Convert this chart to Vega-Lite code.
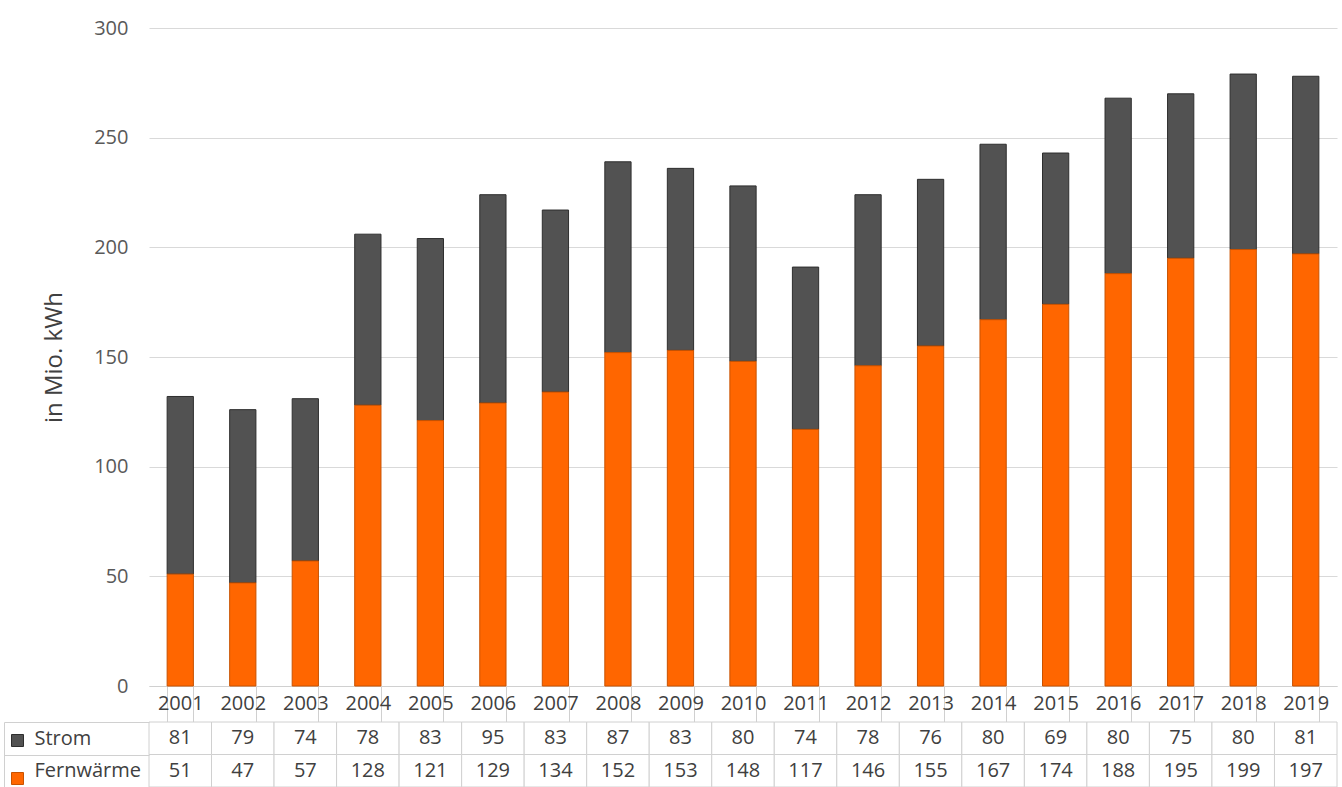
{
  "$schema": "https://vega.github.io/schema/vega-lite/v6.json",
  "autosize": {"type": "pad"},
  "padding": {"left": 3, "top": 18, "right": 6, "bottom": 0},
  "bounds": "flush",
  "spacing": 36,
  "config": {
    "font": "Open Sans",
    "view": {"stroke": null},
    "axis": {"labelFont": "Open Sans", "titleFont": "Open Sans"}
  },
  "datasets": {
    "energy": [
      {"year": "2001", "series": "Strom", "value": 81}, {"year": "2001", "series": "Fernwärme", "value": 51},
      {"year": "2002", "series": "Strom", "value": 79}, {"year": "2002", "series": "Fernwärme", "value": 47},
      {"year": "2003", "series": "Strom", "value": 74}, {"year": "2003", "series": "Fernwärme", "value": 57},
      {"year": "2004", "series": "Strom", "value": 78}, {"year": "2004", "series": "Fernwärme", "value": 128},
      {"year": "2005", "series": "Strom", "value": 83}, {"year": "2005", "series": "Fernwärme", "value": 121},
      {"year": "2006", "series": "Strom", "value": 95}, {"year": "2006", "series": "Fernwärme", "value": 129},
      {"year": "2007", "series": "Strom", "value": 83}, {"year": "2007", "series": "Fernwärme", "value": 134},
      {"year": "2008", "series": "Strom", "value": 87}, {"year": "2008", "series": "Fernwärme", "value": 152},
      {"year": "2009", "series": "Strom", "value": 83}, {"year": "2009", "series": "Fernwärme", "value": 153},
      {"year": "2010", "series": "Strom", "value": 80}, {"year": "2010", "series": "Fernwärme", "value": 148},
      {"year": "2011", "series": "Strom", "value": 74}, {"year": "2011", "series": "Fernwärme", "value": 117},
      {"year": "2012", "series": "Strom", "value": 78}, {"year": "2012", "series": "Fernwärme", "value": 146},
      {"year": "2013", "series": "Strom", "value": 76}, {"year": "2013", "series": "Fernwärme", "value": 155},
      {"year": "2014", "series": "Strom", "value": 80}, {"year": "2014", "series": "Fernwärme", "value": 167},
      {"year": "2015", "series": "Strom", "value": 69}, {"year": "2015", "series": "Fernwärme", "value": 174},
      {"year": "2016", "series": "Strom", "value": 80}, {"year": "2016", "series": "Fernwärme", "value": 188},
      {"year": "2017", "series": "Strom", "value": 75}, {"year": "2017", "series": "Fernwärme", "value": 195},
      {"year": "2018", "series": "Strom", "value": 80}, {"year": "2018", "series": "Fernwärme", "value": 199},
      {"year": "2019", "series": "Strom", "value": 81}, {"year": "2019", "series": "Fernwärme", "value": 197}
    ]
  },
  "vconcat": [
    {
      "width": 1188,
      "height": 658,
      "data": {"name": "energy"},
      "mark": {"type": "bar", "strokeWidth": 1},
      "encoding": {
        "x": {
          "field": "year", "type": "ordinal",
          "scale": {"paddingInner": 0.58, "paddingOuter": 0.29},
          "axis": {
            "title": null, "labelAngle": 0, "grid": false,
            "domain": true, "domainColor": "#d0d0d0", "domainWidth": 1,
            "ticks": true, "tickBand": "extent", "tickSize": 36, "tickColor": "#d0d0d0", "tickWidth": 1,
            "labelFontSize": 20, "labelColor": "#404040", "labelBaseline": "middle", "labelPadding": -19
          }
        },
        "y": {
          "field": "value", "type": "quantitative", "stack": "zero",
          "scale": {"domain": [0, 300], "nice": false},
          "axis": {
            "title": "in Mio. kWh", "titleFontSize": 24, "titleFontWeight": "normal", "titleColor": "#404040", "titlePadding": 27,
            "values": [0, 50, 100, 150, 200, 250, 300],
            "grid": true, "gridColor": "#d9d9d9", "gridWidth": 1,
            "domain": false, "ticks": false,
            "labelFontSize": 20, "labelColor": "#595959", "labelPadding": 21
          }
        },
        "color": {
          "field": "series", "type": "nominal",
          "scale": {"domain": ["Strom", "Fernwärme"], "range": ["#525252", "#ff6600"]},
          "legend": {
            "orient": "none", "legendX": -138, "legendY": 706,
            "title": null, "padding": 0,
            "symbolType": "square", "symbolSize": 144, "symbolStrokeWidth": 1, "symbolStrokeColor": "#333333",
            "labelExpr": "''", "labelFontSize": 12, "rowPadding": 21
          }
        },
        "stroke": {
          "field": "series", "type": "nominal",
          "scale": {"domain": ["Strom", "Fernwärme"], "range": ["#2e2e2e", "#c85200"]},
          "legend": null
        },
        "order": {"field": "series", "sort": "ascending"}
      }
    },
    {
      "width": 1188,
      "height": 65,
      "data": {"name": "energy"},
      "encoding": {
        "x": {
          "field": "year", "type": "ordinal",
          "scale": {"paddingInner": 0, "paddingOuter": 0},
          "axis": null
        }
      },
      "layer": [
        {
          "mark": {"type": "rect", "fill": "#ffffff", "stroke": "#d0d0d0", "strokeWidth": 1},
          "encoding": {
            "y": {
              "field": "series", "type": "nominal", "sort": ["Strom", "Fernwärme"],
              "scale": {"paddingInner": 0, "paddingOuter": 0},
              "axis": {
                "title": null, "domain": false,
                "ticks": true, "tickBand": "extent", "tickSize": 145, "tickColor": "#d0d0d0", "tickWidth": 1,
                "labelAlign": "left", "labelPadding": -30, "labelFontSize": 20, "labelColor": "#404040"
              }
            }
          }
        },
        {
          "mark": {"type": "text", "fontSize": 20, "color": "#404040"},
          "encoding": {
            "y": {
              "field": "series", "type": "nominal", "sort": ["Strom", "Fernwärme"],
              "axis": {
                "orient": "left", "offset": 145, "title": null,
                "domain": true, "domainColor": "#d0d0d0", "domainWidth": 1,
                "ticks": false, "labels": false
              }
            },
            "text": {"field": "value", "type": "quantitative"}
          }
        }
      ],
      "resolve": {"axis": {"y": "independent"}}
    }
  ]
}
